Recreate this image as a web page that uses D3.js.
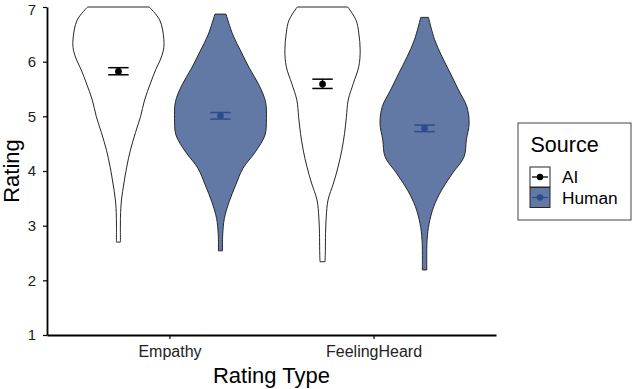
<!DOCTYPE html>
<html>
<head>
<meta charset="utf-8">
<script src="https://cdn.jsdelivr.net/npm/d3@7"></script>
<style>
  body { margin: 0; background: #fff; }
  text { font-family: "Liberation Sans", Arial, Helvetica, sans-serif; }
</style>
</head>
<body>
<script>
(function (d3) {
  'use strict'
  const w = 633
  const h = 389

  // data
  const ratingTypes = ['Empathy', 'FeelingHeard']
  const sources = ['AI', 'Human']
  const yTicks = [1, 2, 3, 4, 5, 6, 7]

  const aiMean = [5.82, 5.59]
  const aiLow = [5.76, 5.51]
  const aiHigh = [5.89, 5.68]
  const humanMean = [5.01, 4.78]
  const humanLow = [4.95, 4.72]
  const humanHigh = [5.07, 4.84]

  // violin outlines: [rating, relative density]
  const aiEmpathy = [[7.00, 0.67], [6.76, 0.90], [6.40, 0.99], [6.21, 0.98], [6.03, 0.91],
    [5.85, 0.81], [5.61, 0.70], [5.30, 0.57], [4.99, 0.48], [4.70, 0.37], [4.38, 0.26],
    [4.07, 0.18], [3.78, 0.12], [3.47, 0.066], [3.16, 0.045], [2.70, 0.044]]
  const humanEmpathy = [[6.87, 0.12], [6.49, 0.27], [6.18, 0.45], [5.88, 0.63], [5.57, 0.84],
    [5.27, 0.98], [4.96, 1.00], [4.66, 0.97], [4.35, 0.76], [4.05, 0.49], [3.74, 0.33],
    [3.44, 0.19], [3.13, 0.084], [2.83, 0.048], [2.54, 0.044]]
  const aiFeelingHeard = [[7.00, 0.55], [6.76, 0.73], [6.52, 0.79], [6.21, 0.82], [5.91, 0.79],
    [5.60, 0.67], [5.30, 0.56], [4.99, 0.52], [4.69, 0.48], [4.38, 0.42], [4.08, 0.34],
    [3.78, 0.24], [3.47, 0.12], [3.16, 0.081], [2.86, 0.066], [2.55, 0.062], [2.34, 0.055]]
  const humanFeelingHeard = [[6.81, 0.084], [6.40, 0.22], [6.09, 0.38], [5.79, 0.56], [5.48, 0.74],
    [5.18, 0.92], [4.87, 0.97], [4.57, 0.91], [4.26, 0.86], [3.96, 0.61], [3.65, 0.37],
    [3.35, 0.20], [3.04, 0.099], [2.74, 0.055], [2.19, 0.048]]

  const fills = { AI: '#ffffff', Human: '#6279a5' }
  const barColors = { AI: '#000000', Human: '#2c4c8c' }

  const groups = [
    { type: 0, source: 'AI', dens: aiEmpathy, mean: aiMean[0], lo: aiLow[0], hi: aiHigh[0] },
    { type: 0, source: 'Human', dens: humanEmpathy, mean: humanMean[0], lo: humanLow[0], hi: humanHigh[0] },
    { type: 1, source: 'AI', dens: aiFeelingHeard, mean: aiMean[1], lo: aiLow[1], hi: aiHigh[1] },
    { type: 1, source: 'Human', dens: humanFeelingHeard, mean: humanMean[1], lo: humanLow[1], hi: humanHigh[1] }
  ]

  const m = { left: 47, right: 137, top: 7, bottom: 54 }

  const svg = d3.select('body').append('svg')
    .attr('width', w)
    .attr('height', h)

  const x = d3.scaleLinear().domain([0.4, 2.6]).range([m.left, w - m.right])
  const y = d3.scaleLinear().domain([1, 7]).range([h - m.bottom, m.top])
  const halfW = d3.scaleLinear().domain([0, 1]).range([0, x(0.225) - x(0)])
  const dodge = 0.25
  const cx = (d) => x(d.type + 1 + (d.source === 'AI' ? -dodge : dodge))

  // violins
  svg.append('g')
    .selectAll('path')
    .data(groups)
    .enter().append('path')
    .attr('d', (g) => d3.area()
      .curve(d3.curveCatmullRom)
      .y((d) => y(d[0]))
      .x0((d) => cx(g) - halfW(d[1]))
      .x1((d) => cx(g) + halfW(d[1]))(g.dens))
    .attr('fill', (g) => fills[g.source])
    .attr('stroke', '#262626')
    .attr('stroke-width', 1)

  // error bars and means
  const bars = svg.append('g')
    .selectAll('g')
    .data(groups)
    .enter().append('g')
    .attr('stroke', (g) => barColors[g.source])
    .attr('fill', (g) => barColors[g.source])

  const ew = x(0.05) - x(0)
  bars.append('line')
    .attr('x1', (g) => cx(g)).attr('x2', (g) => cx(g))
    .attr('y1', (g) => y(g.lo)).attr('y2', (g) => y(g.hi))
    .attr('stroke-width', 1.5)
  bars.append('line')
    .attr('x1', (g) => cx(g) - ew).attr('x2', (g) => cx(g) + ew)
    .attr('y1', (g) => y(g.lo)).attr('y2', (g) => y(g.lo))
    .attr('stroke-width', 1.5)
  bars.append('line')
    .attr('x1', (g) => cx(g) - ew).attr('x2', (g) => cx(g) + ew)
    .attr('y1', (g) => y(g.hi)).attr('y2', (g) => y(g.hi))
    .attr('stroke-width', 1.5)
  bars.append('circle')
    .attr('cx', (g) => cx(g))
    .attr('cy', (g) => y(g.mean))
    .attr('r', 3.4)
    .attr('stroke', 'none')

  // axes
  const yAxis = svg.append('g')
    .attr('transform', 'translate(' + m.left + ',0)')
    .call(d3.axisLeft(y).tickValues(yTicks).tickFormat(d3.format('d'))
      .tickSize(4).tickSizeOuter(0).tickPadding(7))
  const xAxis = svg.append('g')
    .attr('transform', 'translate(0,' + (h - m.bottom) + ')')
    .call(d3.axisBottom(x).tickValues([1, 2]).tickFormat((d) => ratingTypes[d - 1])
      .tickSize(4).tickSizeOuter(0).tickPadding(7))

  yAxis.select('.domain').attr('stroke', '#000').attr('stroke-width', 1.8)
  xAxis.select('.domain').attr('stroke', '#000').attr('stroke-width', 1.8)
  svg.selectAll('.tick line').attr('stroke', '#000').attr('stroke-width', 1.2)
  yAxis.selectAll('.tick text').attr('font-size', 15).attr('fill', '#222')
  // keep the top label inside the page
  yAxis.selectAll('.tick text').filter((d) => d === 7).attr('dy', '0.5em')
  xAxis.selectAll('.tick text').attr('font-size', 16).attr('fill', '#222')

  svg.append('text')
    .attr('x', (x(0.4) + x(2.6)) / 2)
    .attr('y', 383)
    .attr('text-anchor', 'middle')
    .attr('font-size', 22)
    .text('Rating Type')

  svg.append('text')
    .attr('transform', 'translate(19,' + y(4) + ') rotate(-90)')
    .attr('text-anchor', 'middle')
    .attr('font-size', 22)
    .text('Rating')

  // legend
  const legend = svg.append('g').attr('transform', 'translate(518,123)')
  legend.append('rect')
    .attr('width', 113).attr('height', 97)
    .attr('fill', '#fff').attr('stroke', '#444').attr('stroke-width', 1)
  legend.append('text')
    .attr('x', 12.5).attr('y', 29)
    .attr('font-size', 21.5)
    .text('Source')

  const key = legend.selectAll('g.key')
    .data(sources)
    .enter().append('g')
    .attr('class', 'key')
    .attr('transform', (d, i) => 'translate(12,' + (44 + i * 20.5) + ')')
  key.append('rect')
    .attr('width', 20).attr('height', 20)
    .attr('fill', (d) => fills[d])
    .attr('stroke', '#262626').attr('stroke-width', 1)
  key.append('line')
    .attr('x1', 2).attr('x2', 18).attr('y1', 10).attr('y2', 10)
    .attr('stroke', (d) => barColors[d]).attr('stroke-width', 1.3)
  key.append('circle')
    .attr('cx', 10).attr('cy', 10).attr('r', 3.2)
    .attr('fill', (d) => barColors[d])
  key.append('text')
    .attr('x', 32).attr('y', 16)
    .attr('font-size', 17.3)
    .text((d) => d)
}(d3))
</script>
</body>
</html>
